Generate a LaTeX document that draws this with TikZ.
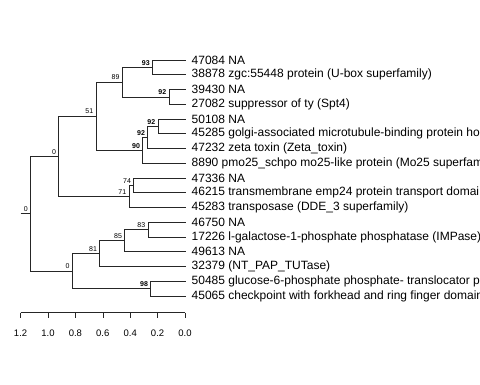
\documentclass[tikz,border=0pt]{standalone}
\usepackage{fontspec}
\setmainfont{Liberation Sans}
\usetikzlibrary{calc,positioning}

\begin{document}
\begin{tikzpicture}[x=1pt,y=-1pt,
    branch/.style={draw=black!85,line width=0.6pt},
    leaf/.style={anchor=west,inner xsep=6pt,inner ysep=1pt,font=\fontsize{12}{13}\selectfont},
    boot/.style={anchor=south east,inner sep=0.8pt,xshift=-1.8pt,yshift=1.2pt,font=\fontsize{7}{8}\selectfont},
    bootb/.style={boot,font=\fontsize{7}{8}\selectfont\bfseries},
    ticklab/.style={inner sep=1pt,font=\fontsize{9.5}{10}\selectfont}]
  \useasboundingbox (0,0) rectangle (480,384);
  % leaves
  \foreach \i/\t in {0/{47084 NA},1/{38878 zgc:55448 protein (U-box superfamily)},
      2/{39430 NA},3/{27082 suppressor of ty (Spt4)},4/{50108 NA},
      5/{45285 golgi-associated microtubule-binding protein ho},
      6/{47232 zeta toxin (Zeta\_toxin)},
      7/{8890 pmo25\_schpo mo25-like protein (Mo25 superfam},
      8/{47336 NA},9/{46215 transmembrane emp24 protein transport domai},
      10/{45283 transposase (DDE\_3 superfamily)},11/{46750 NA},
      12/{17226 l-galactose-1-phosphate phosphatase (IMPase)},13/{49613 NA},
      14/{32379 (NT\_PAP\_TUTase)},
      15/{50485 glucose-6-phosphate phosphate- translocator p},
      16/{45065 checkpoint with forkhead and ring finger domain}}
    \node[leaf] (l\i) at (185.5,{60+14.75*\i}) {\t};
  % internal nodes
  \coordinate (n93) at (152.5,67.4);
  \coordinate (n92a) at (169,96.9);
  \coordinate (n89) at (122.3,82.1);
  \coordinate (n92b) at (158,126.4);
  \coordinate (n92c) at (147.7,137.4);
  \coordinate (n90) at (142.7,150.3);
  \coordinate (n51) at (96,116.2);
  \coordinate (n74) at (133.7,185.4);
  \coordinate (n71) at (129,196.4);
  \coordinate (n0a) at (58.7,156.3);
  \coordinate (n83) at (148,229.6);
  \coordinate (n85) at (124.7,240.7);
  \coordinate (n81) at (99.7,253.6);
  \coordinate (n98) at (150.7,288.6);
  \coordinate (n0b) at (72.3,271.1);
  \coordinate (root) at (30.5,213.7);
  \coordinate (stub) at (20.5,213.7);
  % branches
  \foreach \a/\b in {n93/l0.west,n93/l1.west,n92a/l2.west,n92a/l3.west,
      n89/n93,n89/n92a,n92b/l4.west,n92b/l5.west,n92c/n92b,n92c/l6.west,
      n90/n92c,n90/l7.west,n51/n89,n51/n90,n74/l8.west,n74/l9.west,
      n71/n74,n71/l10.west,n0a/n51,n0a/n71,n83/l11.west,n83/l12.west,
      n85/n83,n85/l13.west,n81/n85,n81/l14.west,n98/l15.west,n98/l16.west,
      n0b/n81,n0b/n98,root/n0a,root/n0b}
    \draw[branch] (\a) |- (\b);
  \draw[branch] (stub) -- (root);
  % support values
  \foreach \n/\v in {n93/93,n92a/92,n92b/92,n92c/92,n90/90,n98/98}
    \node[bootb] (b\n) at (\n) {\v};
  \foreach \n/\v in {n89/89,n51/51,n0a/0,n74/74,n71/71,n83/83,n85/85,n81/81,n0b/0,root/0}
    \node[boot] (b\n) at (\n) {\v};
  % scale axis
  \coordinate (ax0) at (185,312.7);
  \coordinate (ax12) at (20.6,312.7);
  \draw[branch] (ax12) -- (ax0);
  \foreach \v/\t in {0/0.0,1/0.2,2/0.4,3/0.6,4/0.8,5/1.0,6/1.2}{
    \coordinate (tk\v) at ($(ax0)+(-27.4*\v,0)$);
    \draw[branch] (tk\v) -- ++(0,5.5);
    \node[ticklab] (tl\v) at ($(tk\v)+(0,20.5)$) {\t};
  }
\end{tikzpicture}
\end{document}
